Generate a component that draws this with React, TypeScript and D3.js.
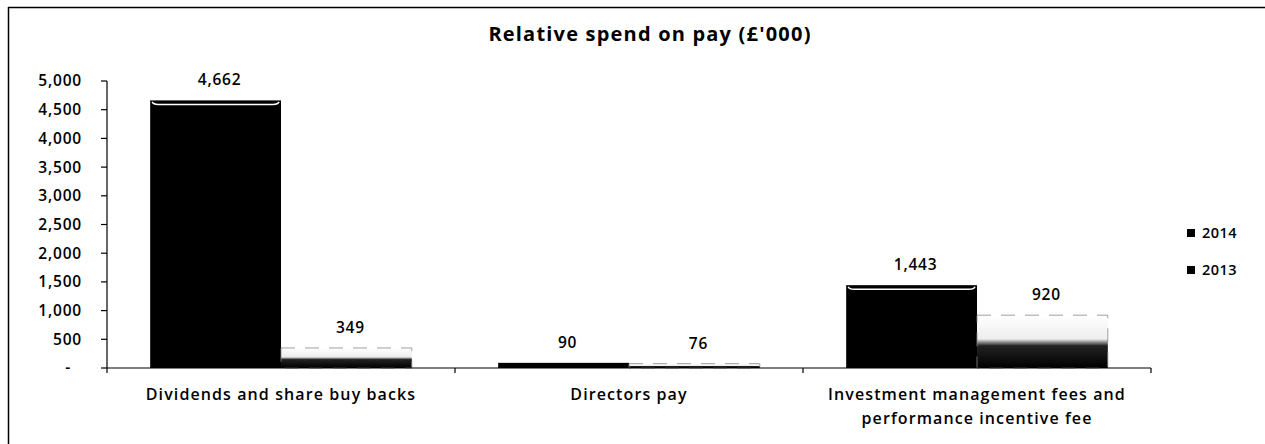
import React from "react";
import * as d3 from "d3";

// chart values
const categories = ["Dividends and share buy backs", "Directors pay", "Investment management fees and performance incentive fee"];
const categoryLines = [["Dividends and share buy backs"], ["Directors pay"], ["Investment management fees and", "performance incentive fee"]];
const series = ["2014", "2013"];
const values2014 = [4662, 90, 1443];
const values2013 = [349, 76, 920];
const yTicks = [0, 500, 1000, 1500, 2000, 2500, 3000, 3500, 4000, 4500, 5000];

const W = 1265;
const H = 444;
const margin = { top: 81, right: 114, bottom: 76, left: 107 };
const FONT = "'Open Sans', sans-serif";

const fmt = d3.format(",");

const App = () => {
  const x0 = d3.scaleBand().domain(categories).range([margin.left, W - margin.right]);
  const x1 = d3.scaleBand().domain(series).range([0, x0.bandwidth()]).paddingOuter(0.33);
  const y = d3.scaleLinear().domain([0, 5000]).range([H - margin.bottom, margin.top]);

  const rows = categories.map((c, i) => ({ cat: c, vals: [values2014[i], values2013[i]] }));
  const y0 = y(0);

  return (
    <svg width={W} height={H} style={{ position: "absolute", left: 0, top: 0, background: "#fff" }}>
      <defs>
        <linearGradient id="g2013" x1="0" y1="0" x2="0" y2="1">
          <stop offset="0" stopColor="#ffffff" />
          <stop offset="0.45" stopColor="#eeeeee" />
          <stop offset="0.58" stopColor="#222" />
          <stop offset="1" stopColor="#000000" />
        </linearGradient>
      </defs>

      {/* frame */}
      <line x1={8} x2={W} y1={7.5} y2={7.5} stroke="#000" strokeWidth={1.5} />
      <line x1={8.5} x2={8.5} y1={7} y2={H} stroke="#000" strokeWidth={1.5} />

      <text x={650} y={41} textAnchor="middle" fontFamily={FONT} fontWeight="bold" fontSize={20} letterSpacing={1.2}>
        Relative spend on pay (£'000)
      </text>

      {/* y axis */}
      <line x1={margin.left} x2={margin.left} y1={y(5000)} y2={y0} stroke="#000" strokeWidth={1.2} />
      {yTicks.map((t) => (
        <g key={t}>
          <line x1={margin.left - 6} x2={margin.left} y1={y(t)} y2={y(t)} stroke="#000" strokeWidth={1.2} />
          <text
            x={t === 0 ? 71 : 82}
            y={y(t)}
            dy="0.35em"
            textAnchor="end"
            fontFamily={FONT}
            fontWeight={600}
            fontSize={15.5}
            letterSpacing={0.8}
          >
            {t === 0 ? "-" : fmt(t)}
          </text>
        </g>
      ))}

      {/* bars */}
      {rows.map((r) => (
        <g key={r.cat} transform={`translate(${x0(r.cat)},0)`}>
          {r.vals.map((v, j) => {
            const bx = x1(series[j])!;
            const bw = x1.bandwidth();
            const by = y(v);
            const bh = y0 - by;
            return (
              <g key={series[j]}>
                {j === 0 ? (
                  <>
                    <rect x={bx} y={by} width={bw} height={bh} fill="#000" />
                    {bh > 6 && (
                      <path
                        d={`M${bx + 2},${by + 1.5} Q${bx + 3},${by + 4} ${bx + 8},${by + 4} L${bx + bw - 8},${by + 4} Q${bx + bw - 3},${by + 4} ${bx + bw - 2},${by + 1.5}`}
                        fill="none"
                        stroke="#fff"
                        strokeWidth={1.5}
                      />
                    )}
                  </>
                ) : (
                  <rect x={bx} y={by} width={bw} height={bh} fill="url(#g2013)" stroke="#888" strokeWidth={0.8} strokeDasharray="14 10" />
                )}
                <text
                  x={bx + bw / 2 + 4}
                  y={by - 15}
                  textAnchor="middle"
                  fontFamily={FONT}
                  fontWeight={600}
                  fontSize={15.5}
                  letterSpacing={0.8}
                >
                  {fmt(v)}
                </text>
              </g>
            );
          })}
        </g>
      ))}

      {/* x axis */}
      <line x1={margin.left} x2={W - margin.right} y1={y0} y2={y0} stroke="#000" strokeWidth={1.2} />
      {[...categories.map((c) => x0(c)!), W - margin.right].map((tx, i) => (
        <line key={i} x1={tx} x2={tx} y1={y0} y2={y0 + 5} stroke="#000" strokeWidth={1.2} />
      ))}
      {categories.map((c, i) => (
        <text
          key={c}
          x={x0(c)! + x0.bandwidth() / 2}
          y={400}
          textAnchor="middle"
          fontFamily={FONT}
          fontWeight={600}
          fontSize={16}
          letterSpacing={1.1}
        >
          {categoryLines[i].map((ln, k) => (
            <tspan key={k} x={x0(c)! + x0.bandwidth() / 2} dy={k === 0 ? 0 : 24}>
              {ln}
            </tspan>
          ))}
        </text>
      ))}

      {/* legend */}
      {series.map((s, i) => (
        <g key={s} transform={`translate(1187,${233 + i * 37})`}>
          <rect x={0} y={-4} width={8} height={8} fill="#000" />
          <text x={15} y={0} dy="0.35em" fontFamily={FONT} fontWeight={600} fontSize={14.5} letterSpacing={0.5}>
            {s}
          </text>
        </g>
      ))}
    </svg>
  );
};

export default App;
